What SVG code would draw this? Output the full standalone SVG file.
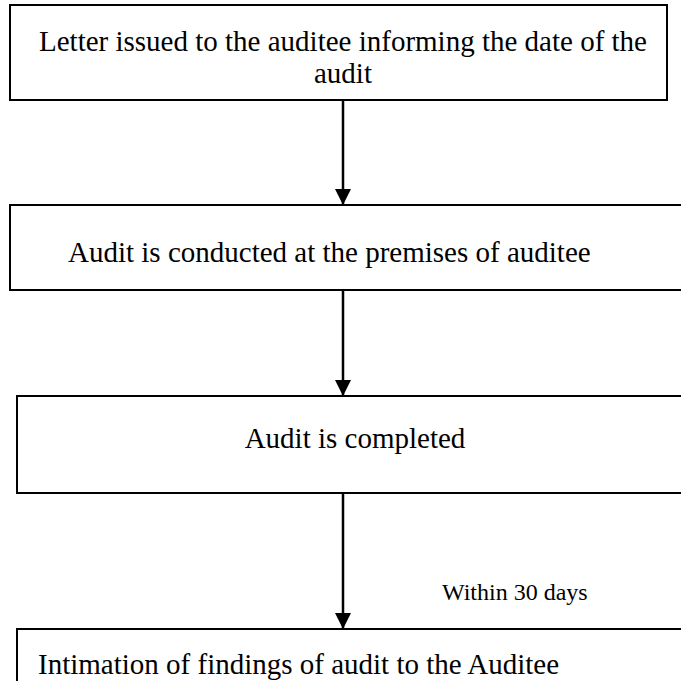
<svg xmlns="http://www.w3.org/2000/svg" width="681" height="681" viewBox="0 0 681 681">
  <defs>
    <marker id="arrow" viewBox="0 0 16 16" refX="16" refY="8" markerWidth="16" markerHeight="16" markerUnits="userSpaceOnUse" orient="auto">
      <path d="M0,0 L16,8 L0,16 Z" fill="#000"/>
    </marker>
  </defs>
  <style>
    .box { fill: #fff; stroke: #000; stroke-width: 2; }
    .lbl { font-family: "Liberation Serif", "Times New Roman", serif; font-size: 29px; fill: #000; }
    .note { font-family: "Liberation Serif", "Times New Roman", serif; font-size: 24px; fill: #000; }
    .conn { stroke: #000; stroke-width: 2.5; fill: none; }
  </style>
  <rect width="681" height="681" fill="#fff"/>

  <g id="connectors">
    <line class="conn" x1="343" y1="100" x2="343" y2="205" marker-end="url(#arrow)"/>
    <line class="conn" x1="343" y1="290" x2="343" y2="396" marker-end="url(#arrow)"/>
    <line class="conn" x1="343" y1="493" x2="343" y2="629" marker-end="url(#arrow)"/>
    <text class="note" x="442" y="600">Within 30 days</text>
  </g>

  <g id="letter-issued">
    <rect class="box" x="10" y="5" width="657" height="95"/>
    <text class="lbl" x="343" y="51" text-anchor="middle">Letter issued to the auditee informing the date of the</text>
    <text class="lbl" x="343" y="83" text-anchor="middle">audit</text>
  </g>

  <g id="audit-conducted">
    <rect class="box" x="10" y="205" width="680" height="85"/>
    <text class="lbl" x="68" y="262">Audit is conducted at the premises of auditee</text>
  </g>

  <g id="audit-completed">
    <rect class="box" x="17" y="396" width="680" height="97"/>
    <text class="lbl" x="355" y="448" text-anchor="middle">Audit is completed</text>
  </g>

  <g id="intimation">
    <rect class="box" x="17" y="629" width="680" height="70"/>
    <text class="lbl" x="38" y="674">Intimation of findings of audit to the Auditee</text>
  </g>
</svg>
